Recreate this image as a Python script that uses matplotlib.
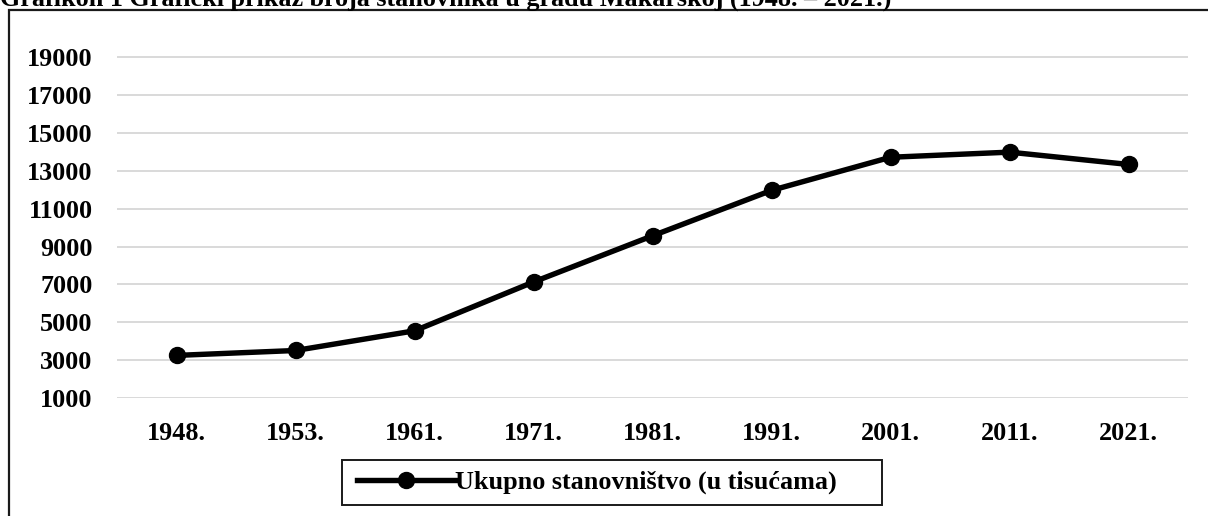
import matplotlib
matplotlib.use("Agg")
import matplotlib.pyplot as plt
from matplotlib.patches import Rectangle
from matplotlib.lines import Line2D

years = ["1948.", "1953.", "1961.", "1971.", "1981.", "1991.", "2001.", "2011.", "2021."]
population = [3250, 3510, 4550, 7130, 9570, 11970, 13720, 13990, 13340]
y_ticks = [1000, 3000, 5000, 7000, 9000, 11000, 13000, 15000, 17000, 19000]
title = "Grafikon 1 Grafički prikaz broja stanovnika u gradu Makarskoj (1948. – 2021.)"
series_name = "Ukupno stanovništvo (u tisućama)"

W, H = 1208, 516
FS = 18.8
plt.rcParams['font.family'] = ['Liberation Serif', 'DejaVu Serif']
plt.rcParams['font.weight'] = 'bold'

fig = plt.figure(figsize=(W / 100, H / 100), dpi=100)
fig.patch.set_facecolor('white')

# outer chart border (left and top visible)
fig.add_artist(Rectangle((9 / W, -0.1), 1.2, (H - 10) / H + 0.1, transform=fig.transFigure,
                         fill=False, edgecolor='#1a1a1a', linewidth=1.6))

# title (clipped at the top edge, as in the source)
fig.text(0.0, 1 - 6 / H, title, ha='left', va='baseline', fontsize=FS, fontweight='bold')

ax = fig.add_axes([117 / W, 1 - 398 / H, (1188 - 117) / W, (398 - 38.4) / H])
x = list(range(len(years)))
ax.plot(x, population, color='black', linewidth=3.9, marker='o', markersize=11.5,
        solid_capstyle='round', label=series_name)
ax.set_xlim(-0.5, len(years) - 0.5)
ax.set_ylim(1000, 20000)
ax.set_yticks(y_ticks)
ax.set_yticklabels([str(v) for v in y_ticks])
ax.set_xticks(x)
ax.set_xticklabels(years)
ax.grid(axis='y', color='#d9d9d9', linewidth=1.4)
ax.set_axisbelow(True)
for s in ax.spines.values():
    s.set_visible(False)
ax.tick_params(axis='both', length=0, labelsize=FS)
ax.tick_params(axis='y', pad=17.5)
ax.tick_params(axis='x', pad=17)
for lab in ax.get_xticklabels() + ax.get_yticklabels():
    lab.set_fontweight('bold')

# legend
fig.add_artist(Rectangle((342 / W, 1 - 505 / H), (882 - 342) / W, 45 / H, transform=fig.transFigure,
                         fill=True, facecolor='white', edgecolor='#1a1a1a', linewidth=1.4))
handle = Line2D([], [], color='black', linewidth=3.9, marker='o', markersize=11.5)
leg = fig.legend([handle], [series_name], loc='center left',
                 bbox_to_anchor=(357 / W, 1 - 482.5 / H), frameon=False,
                 handlelength=3.75, handletextpad=0.02, borderpad=0, borderaxespad=0,
                 prop={'size': FS, 'weight': 'bold'})

fig.savefig("out.png", dpi=100, facecolor='white')
